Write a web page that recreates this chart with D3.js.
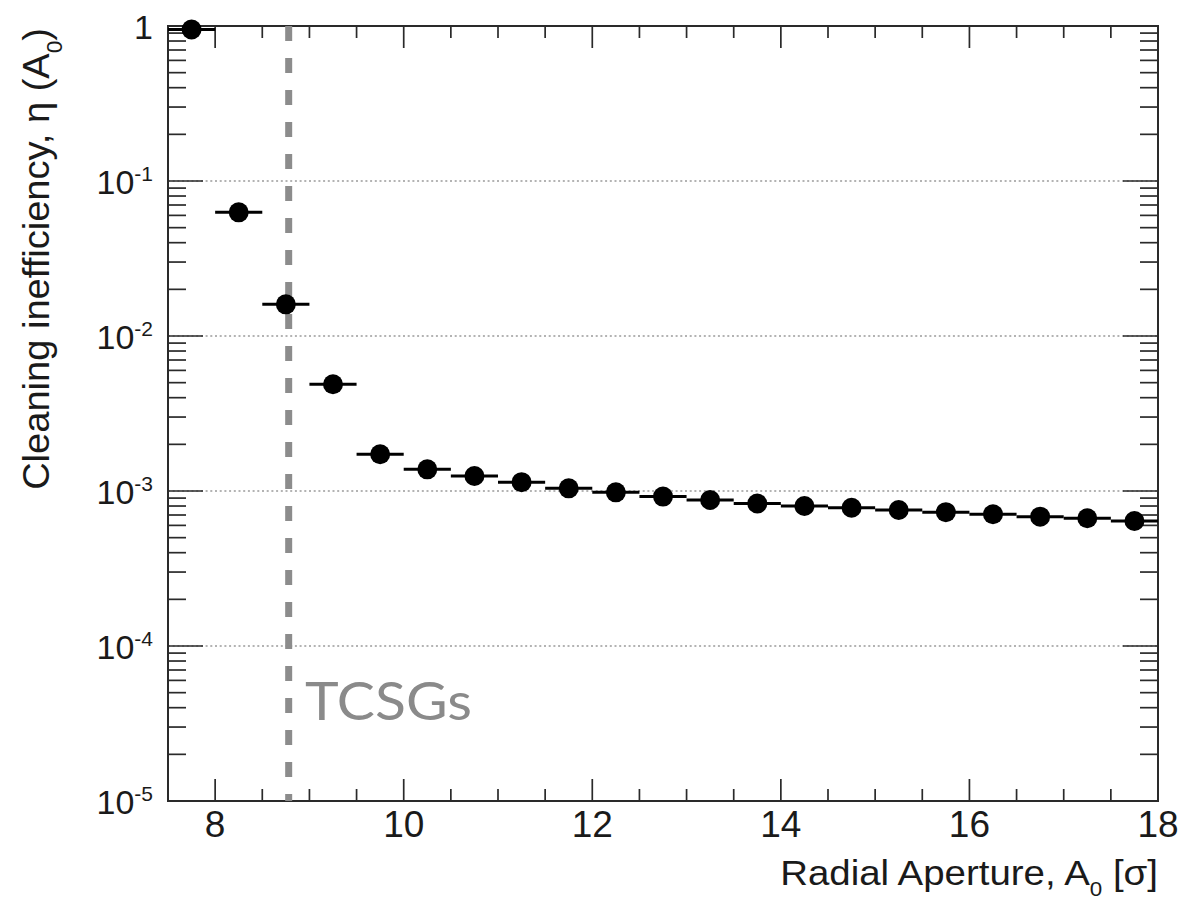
<!DOCTYPE html>
<html>
<head>
<meta charset="utf-8">
<script src="https://cdn.jsdelivr.net/npm/d3@7"></script>
<style>
  html, body { margin: 0; padding: 0; background: #fff; }
  svg { display: block; }
  text { font-family: "Liberation Sans", Arial, Helvetica, sans-serif; }
  text.tcsg { font-family: Lato, "Open Sans", sans-serif; }
</style>
</head>
<body>
<svg id="chart" width="1183" height="904"></svg>
<script>
// ---- data ----
const binCenters = [7.75, 8.25, 8.75, 9.25, 9.75, 10.25, 10.75, 11.25, 11.75, 12.25, 12.75,
                    13.25, 13.75, 14.25, 14.75, 15.25, 15.75, 16.25, 16.75, 17.25, 17.75];
const binHalfWidth = 0.25;
const ineff = [0.95, 0.0628, 0.016, 0.00488, 0.001725, 0.00138, 0.00125, 0.00114, 0.00104,
               0.00098, 0.00092, 0.000875, 0.00083, 0.0008, 0.00078, 0.000754, 0.00073,
               0.000708, 0.000683, 0.000667, 0.00064];
const xMajorTicks = [8, 10, 12, 14, 16, 18];
const yDecades = [0, -1, -2, -3, -4, -5];
const gridDecades = [-1, -2, -3, -4];
const tcsgPosition = 8.78;
const tcsgLabel = "TCSGs";

// ---- layout ----
const L = 168, R = 1158, T = 26, B = 801;
const svg = d3.select("#chart");
const x = d3.scaleLinear().domain([7.5, 18]).range([L, R]);
const y = d3.scaleLog().domain([1e-5, 1]).range([B, T]);

// gridlines
svg.append("g").selectAll("line").data(gridDecades).join("line")
  .attr("x1", L).attr("x2", R)
  .attr("y1", d => y(Math.pow(10, d))).attr("y2", d => y(Math.pow(10, d)))
  .attr("stroke", "#9a9a9a").attr("stroke-width", 1.6).attr("stroke-dasharray", "2,2.7");

// minor & major ticks
const xMinor = d3.range(7.5, 18.001, 0.5).filter(v => !xMajorTicks.includes(v) && v > 7.5 && v < 18);
const tickG = svg.append("g").attr("stroke", "#2a2a2a").attr("stroke-width", 1.7);
xMajorTicks.concat(xMinor).forEach(v => {
  const len = xMajorTicks.includes(v) ? 22 : 12;
  tickG.append("line").attr("x1", x(v)).attr("x2", x(v)).attr("y1", B).attr("y2", B - len);
  tickG.append("line").attr("x1", x(v)).attr("x2", x(v)).attr("y1", T).attr("y2", T + len);
});
yDecades.forEach(e => {
  const base = Math.pow(10, e);
  const pts = [{v: base, major: true}];
  if (e > -5) for (let k = 2; k <= 9; k++) pts.push({v: base * k / 10, major: false});
  pts.forEach(p => {
    const len = p.major ? 35 : 18;
    const yy = y(p.v);
    if (yy < T - 0.5 || yy > B + 0.5) return;
    tickG.append("line").attr("x1", L).attr("x2", L + len).attr("y1", yy).attr("y2", yy);
    tickG.append("line").attr("x1", R).attr("x2", R - len).attr("y1", yy).attr("y2", yy);
  });
});

// frame
svg.append("rect").attr("x", L).attr("y", T).attr("width", R - L).attr("height", B - T)
  .attr("fill", "none").attr("stroke", "#2a2a2a").attr("stroke-width", 2);

// x tick labels
svg.append("g").selectAll("text").data(xMajorTicks).join("text")
  .attr("x", d => x(d)).attr("y", 837)
  .attr("text-anchor", "middle").attr("font-size", 37).attr("fill", "#1a1a1a")
  .text(d => d);

// y tick labels
const yl = svg.append("g");
yDecades.forEach(e => {
  const t = yl.append("text").attr("x", 153).attr("y", y(Math.pow(10, e)) + 13)
    .attr("text-anchor", "end").attr("font-size", 34).attr("fill", "#1a1a1a");
  if (e === 0) { t.text("1"); }
  else {
    t.append("tspan").text("10");
    t.append("tspan").attr("font-size", 21).attr("dy", -13).text(String(e));
  }
});

// dashed TCSG line
svg.append("line").attr("x1", x(tcsgPosition)).attr("x2", x(tcsgPosition))
  .attr("y1", T).attr("y2", B)
  .attr("stroke", "#8c8c8c").attr("stroke-width", 7).attr("stroke-dasharray", "15,17");

// error bars
svg.append("g").selectAll("line").data(binCenters).join("line")
  .attr("x1", (d) => x(d - binHalfWidth)).attr("x2", (d) => x(d + binHalfWidth))
  .attr("y1", (d, i) => y(ineff[i])).attr("y2", (d, i) => y(ineff[i]))
  .attr("stroke", "#000").attr("stroke-width", 3);
// markers
svg.append("g").selectAll("circle").data(binCenters).join("circle")
  .attr("cx", d => x(d)).attr("cy", (d, i) => y(ineff[i])).attr("r", 10)
  .attr("fill", "#000");

// helper to stretch text to a target width
function fit(g, target) {
  const w = g.node().getBBox().width;
  return target / w;
}

// TCSGs label
const tg = svg.append("g");
tg.append("text").attr("class", "tcsg").attr("x", 0).attr("y", 0)
  .attr("font-size", 53).attr("fill", "#8a8a8a").text(tcsgLabel);
const s1 = fit(tg, 167);
tg.attr("transform", `translate(305,720) scale(${s1},1)`);

// x title
const xg = svg.append("g");
const xt = xg.append("text").attr("text-anchor", "end").attr("font-size", 36).attr("fill", "#1a1a1a");
xt.append("tspan").text("Radial Aperture, A");
xt.append("tspan").attr("font-size", 21).attr("dy", 11).text("0");
xt.append("tspan").attr("dy", -11).text(" [σ]");
const s2 = fit(xg, 378);
xg.attr("transform", `translate(1158,885) scale(${s2},1)`);

// y title
const yg = svg.append("g");
const ytxt = yg.append("text").attr("text-anchor", "end").attr("font-size", 37).attr("fill", "#1a1a1a");
ytxt.append("tspan").text("Cleaning inefficiency, η (A");
ytxt.append("tspan").attr("font-size", 22).attr("dy", 13).text("0");
ytxt.append("tspan").attr("dy", -13).text(")");
const s3 = fit(yg, 462);
yg.attr("transform", `translate(49,28) rotate(-90) scale(${s3},1)`);
</script>
</body>
</html>
